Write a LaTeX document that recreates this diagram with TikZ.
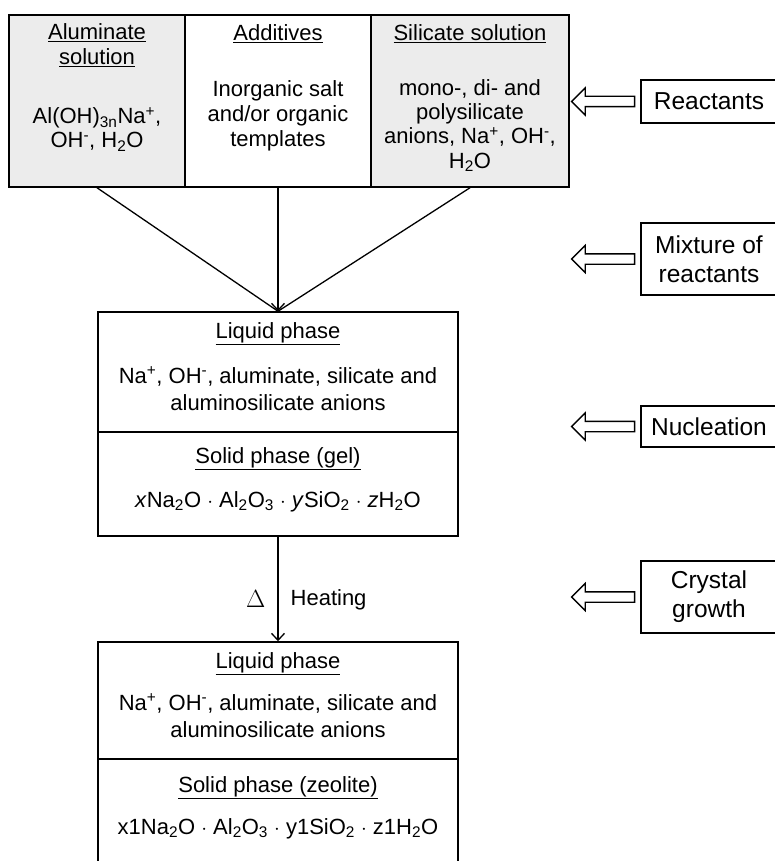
\documentclass[tikz,border=0pt]{standalone}
\usepackage{fontspec}
\setmainfont{Liberation Sans}
\usetikzlibrary{arrows.meta,shapes.arrows,positioning}

\begin{document}
\begin{tikzpicture}[x=1pt, y=-1pt,
                    every node/.style={font=\fontsize{22}{25}\selectfont, inner sep=0pt},
                    box/.style={draw, line width=1.5pt},
                    inbox/.style={box, fill=gray!15, minimum height=172pt},
                    phase/.style={box, minimum width=360pt},
                    stagebox/.style={box, minimum width=136pt, align=center,
                      font=\fontsize{24.5}{29}\selectfont},
                    txt/.style={align=center, anchor=base},
                    link/.style={line width=1.3pt},
                    hollow/.style={draw, line width=1.3pt, fill=white, single arrow,
                      shape border rotate=180, minimum height=63pt, inner sep=4.5pt,
                      single arrow head extend=8.5pt, single arrow tip angle=90}]
  \useasboundingbox (0,0) rectangle (774,861);
  % reactant boxes
  \node[inbox, minimum width=176pt] (alum) at (97,101) {};
  \node[inbox, fill=white, minimum width=186pt] (addit) at (278,101) {};
  \node[inbox, minimum width=198pt] (silic) at (470,101) {};
  \node[txt] (alumT) at (97,65) {\underline{Aluminate}\\\underline{solution}};
  \node[txt, font=\fontsize{22}{24}\selectfont] (alumB) at (97,148) {Al(OH)\textsubscript{3n}Na\textsuperscript{+},\\OH\textsuperscript{-}, H\textsubscript{2}O};
  \node[txt] (additT) at (278,41) {\underline{Additives}};
  \node[txt] (additB) at (278,147) {Inorganic salt\\and/or organic\\templates};
  \node[txt] (silicT) at (470,41) {\underline{Silicate solution}};
  \node[txt, font=\fontsize{22}{24.3}\selectfont] (silicB) at (470,168) {mono-, di- and\\polysilicate\\anions, Na\textsuperscript{+}, OH\textsuperscript{-},\\H\textsubscript{2}O};
  % gel
  \node[phase, minimum height=120pt] (liq1) at (278,372) {};
  \node[phase, minimum height=104pt] (sol1) at (278,484) {};
  \node[txt] (liq1T) at (278,338) {\underline{Liquid phase}};
  \node[txt, font=\fontsize{22}{27}\selectfont] (liq1B) at (278,410) {Na\textsuperscript{+}, OH\textsuperscript{-}, aluminate, silicate and\\aluminosilicate anions};
  \node[txt] (sol1T) at (278,463) {\underline{Solid phase (gel)}};
  \node[txt] (sol1B) at (278,507) {\textit{x}Na\textsubscript{2}O $\cdot$ Al\textsubscript{2}O\textsubscript{3} $\cdot$ \textit{y}SiO\textsubscript{2} $\cdot$ \textit{z}H\textsubscript{2}O};
  % zeolite
  \node[phase, minimum height=117pt] (liq2) at (278,700.5) {};
  \node[phase, minimum height=111pt] (sol2) at (278,814.5) {};
  \node[txt] (liq2T) at (278,668) {\underline{Liquid phase}};
  \node[txt, font=\fontsize{22}{27}\selectfont] (liq2B) at (278,737) {Na\textsuperscript{+}, OH\textsuperscript{-}, aluminate, silicate and\\aluminosilicate anions};
  \node[txt] (sol2T) at (278,792) {\underline{Solid phase (zeolite)}};
  \node[txt] (sol2B) at (278,834) {x1Na\textsubscript{2}O $\cdot$ Al\textsubscript{2}O\textsubscript{3} $\cdot$ y1SiO\textsubscript{2} $\cdot$ z1H\textsubscript{2}O};
  % stages
  \node[stagebox, minimum height=43pt] (react) at (709,101.5) {Reactants};
  \node[stagebox, minimum height=72pt] (mix) at (709,259) {Mixture of\\reactants};
  \node[stagebox, minimum height=41pt] (nucl) at (709,426.5) {Nucleation};
  \node[stagebox, minimum height=72pt] (cryst) at (709,597) {Crystal\\growth};
  \node[hollow, left=5pt of react] (reactA) {};
  \node[hollow, left=5pt of mix] (mixA) {};
  \node[hollow, left=5pt of nucl] (nuclA) {};
  \node[hollow, left=5pt of cryst] (crystA) {};
  % arrows
  \draw[link] (alum.south) -- (liq1.north);
  \draw[link] (silic.south) -- (liq1.north);
  \draw[link, -{Straight Barb[length=7pt,width=13pt]}] (addit.south) -- (liq1.north);
  \draw[link, -{Straight Barb[length=7pt,width=13pt]}] (sol1.south) --
    node[pos=0.6, left=12pt, scale=1.2] (delta) {$\Delta$}
    node[pos=0.6, right=12pt] (heat) {Heating} (liq2.north);
\end{tikzpicture}
\end{document}
